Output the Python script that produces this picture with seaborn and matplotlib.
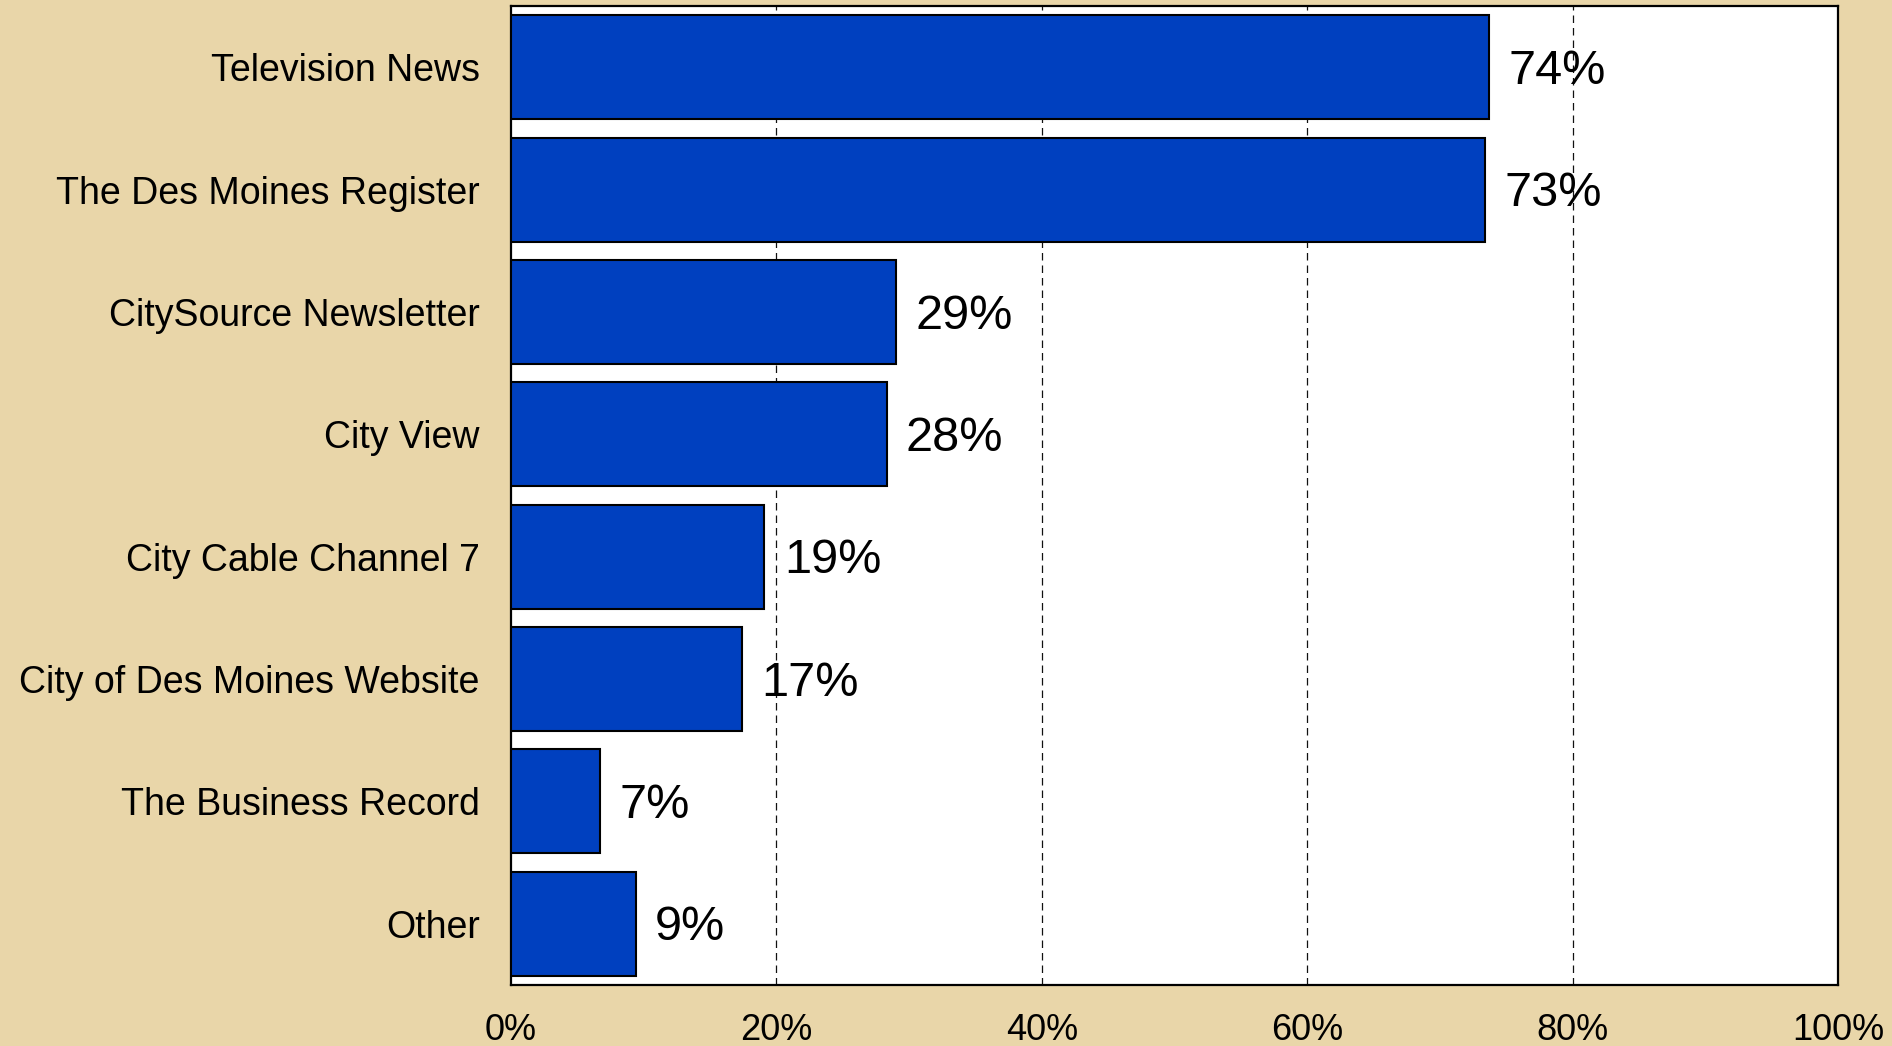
import matplotlib
matplotlib.use("Agg")
import matplotlib.pyplot as plt
import seaborn as sns
import pandas as pd
from matplotlib.ticker import FuncFormatter

categories = ["Television News", "The Des Moines Register", "CitySource Newsletter",
              "City View", "City Cable Channel 7", "City of Des Moines Website",
              "The Business Record", "Other"]
values = [73.7, 73.4, 29.0, 28.3, 19.1, 17.4, 6.7, 9.4]
x_ticks = [0, 20, 40, 60, 80, 100]

df = pd.DataFrame({"source": categories, "pct": values})

sns.set_theme(style="white")
plt.rcParams["font.family"] = ["Liberation Sans", "DejaVu Sans"]

bg = "#E9D6A9"
bar_color = "#0040BF"

fig = plt.figure(figsize=(18.92, 10.46), dpi=100, facecolor=bg)
ax = fig.add_axes([0.2701, 0.0583, 0.9714 - 0.2701, 0.9943 - 0.0583])
ax.set_facecolor("white")

sns.barplot(data=df, x="pct", y="source", orient="h", color=bar_color,
            saturation=1, width=0.85, edgecolor="black", linewidth=1.5,
            ax=ax, zorder=3)

ax.set_xlim(0, 100)
ax.set_ylim(len(categories) - 0.5, -0.5)
ax.set_xticks(x_ticks)
ax.xaxis.set_major_formatter(FuncFormatter(lambda v, p: f"{v:.0f}%"))
ax.grid(False)
for t in x_ticks[1:-1]:
    ax.axvline(t, color="#111111", linestyle=(0, (6, 4)), linewidth=0.9, zorder=1)

ax.set_xlabel("")
ax.set_ylabel("")
ax.tick_params(axis="y", length=0, pad=22.5, labelsize=27, labelcolor="black")
ax.tick_params(axis="x", length=0, pad=20, labelsize=26, labelcolor="black")

for s in ax.spines.values():
    s.set_visible(True)
    s.set_color("black")
    s.set_linewidth(1.6)

for i, v in enumerate(values):
    ax.annotate(f"{v:.0f}%", xy=(v, i), xytext=(14, -3), textcoords="offset points",
                ha="left", va="center", fontsize=35, color="black", zorder=5)

fig.savefig("out.png", dpi=100, facecolor=bg)
